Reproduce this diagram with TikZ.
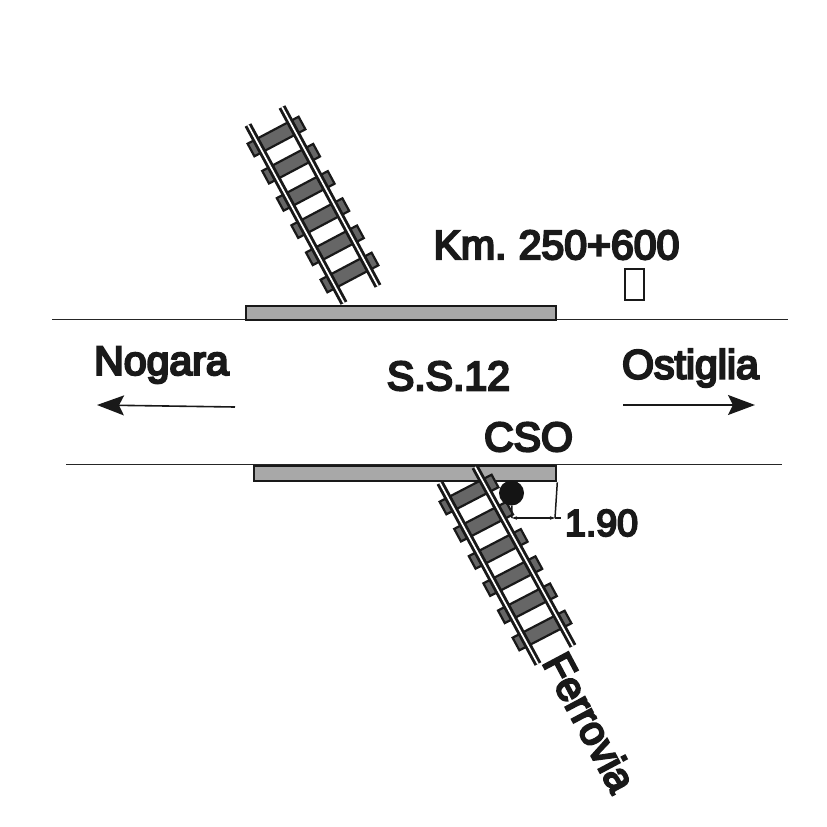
\documentclass[tikz,border=0pt]{standalone}
\usepackage{fontspec}
\setmainfont{Liberation Sans}
\newfontfamily\lblfont[FakeBold=5.5]{Liberation Sans}
\usetikzlibrary{arrows.meta}
\definecolor{slab}{HTML}{A8A8A8}
\definecolor{tie}{HTML}{666666}
\tikzset{
  x=1pt,y=-1pt,
  road/.style={draw=black!85,line width=1.9pt},
  slabbox/.style={draw=black!90,fill=slab,line width=2.8pt},
  tiebar/.style={draw=black!90,fill=tie,line width=2.2pt},
  railout/.style={draw=black!90,line width=7.5pt},
  railin/.style={draw=white,line width=1.7pt},
  lbl/.style={font=\lblfont\fontsize{41}{41}\selectfont,inner sep=0pt,text=black!90},
  dirarrow/.style={draw=black!90,line width=1.6pt,-{Stealth[length=27pt,width=20pt,inset=5pt]}},
  dimline/.style={draw=black!90,line width=1.5pt},
  dimtip/.style={dimline,{Stealth[length=5pt,width=3.5pt]}-{Stealth[length=5pt,width=3.5pt]}},
}
\newcommand{\trackties}[4]{%
  \foreach \k in {0,...,5}{
    \pgfmathsetmacro{\ax}{#1+14.6*\k}\pgfmathsetmacro{\ay}{#2+27.2*\k}
    \pgfmathsetmacro{\bx}{#3+14.6*\k}\pgfmathsetmacro{\by}{#4+27.2*\k}
    \pgfmathsetmacro{\nx}{3.4}\pgfmathsetmacro{\ny}{6.3}
    \draw[tiebar] (\ax-\nx,\ay-\ny) -- (\bx-\nx,\by-\ny) -- (\bx+\nx,\by+\ny) -- (\ax+\nx,\ay+\ny) -- cycle;
  }}
\begin{document}
\begin{tikzpicture}
\useasboundingbox (0,0) rectangle (827,827);
% roads
\coordinate (r1a) at (52,319.5); \coordinate (r1b) at (788,319.5);
\coordinate (r2a) at (66,464.5); \coordinate (r2b) at (782,464.5);
\draw[road] (r1a) -- (r1b);
\draw[road] (r2a) -- (r2b);
% upper track
\trackties{251}{150}{302}{123}
\coordinate (ula) at (248,125); \coordinate (ulb) at (344,303);
\coordinate (ura) at (282,107); \coordinate (urb) at (378,286);
\draw[railout] (ula) -- (ulb); \draw[railin] (ula) -- (ulb);
\draw[railout] (ura) -- (urb); \draw[railin] (ura) -- (urb);
% slabs
\node[slabbox,minimum width=310pt,minimum height=14pt,inner sep=0pt,anchor=north west] (slabU) at (244.5,304.5) {};
\node[slabbox,minimum width=302pt,minimum height=15pt,inner sep=0pt,anchor=north west] (slabL) at (252.5,464.5) {};
% lower track
\trackties{443}{508}{495}{481}
\coordinate (lla) at (440,483); \coordinate (llb) at (538,664);
\coordinate (lra) at (475,467); \coordinate (lrb) at (573,646);
\draw[railout] (lla) -- (llb); \draw[railin] (lla) -- (llb);
\draw[railout] (lra) -- (lrb); \draw[railin] (lra) -- (lrb);
% sign and dimension
\node[draw=black!90,line width=1.5pt,minimum width=19pt,minimum height=31pt,inner sep=0pt] (box) at (634.5,284.5) {};
\node[circle,fill=black!92,minimum size=25pt,inner sep=0pt] (cso) at (511.5,493) {};
\coordinate (d1) at (512,518); \coordinate (d2) at (555,518); \coordinate (d3) at (561,518);
\draw[dimline] (cso) -- (d1);
\draw[dimline] (slabL.south east) -- (d2);
\draw[dimtip] (d1) -- (d2);
\draw[dimline] (d2) -- (d3);
% arrows
\coordinate (na) at (235,407); \coordinate (nb) at (97,405);
\coordinate (oa) at (623,405); \coordinate (ob) at (755,405);
\draw[dirarrow] (na) -- (nb);
\draw[dirarrow] (oa) -- (ob);
% labels
\node[lbl] (km) at (556.5,245) {Km.\kern-3pt{} 250+600};
\node[lbl] (nog) at (161.5,365) {Nogara};
\node[lbl] (ost) at (690.5,368) {Ostiglia};
\node[lbl] (ss) at (448.5,376) {S.S.12};
\node[lbl] (csolab) at (528.5,437) {CSO};
\node[lbl,font=\lblfont\fontsize{37.5}{38}\selectfont] (dim) at (601.5,523) {1.90};
\node[lbl,rotate=-62] (fer) at (590,722) {Ferrovia};
\end{tikzpicture}
\end{document}
